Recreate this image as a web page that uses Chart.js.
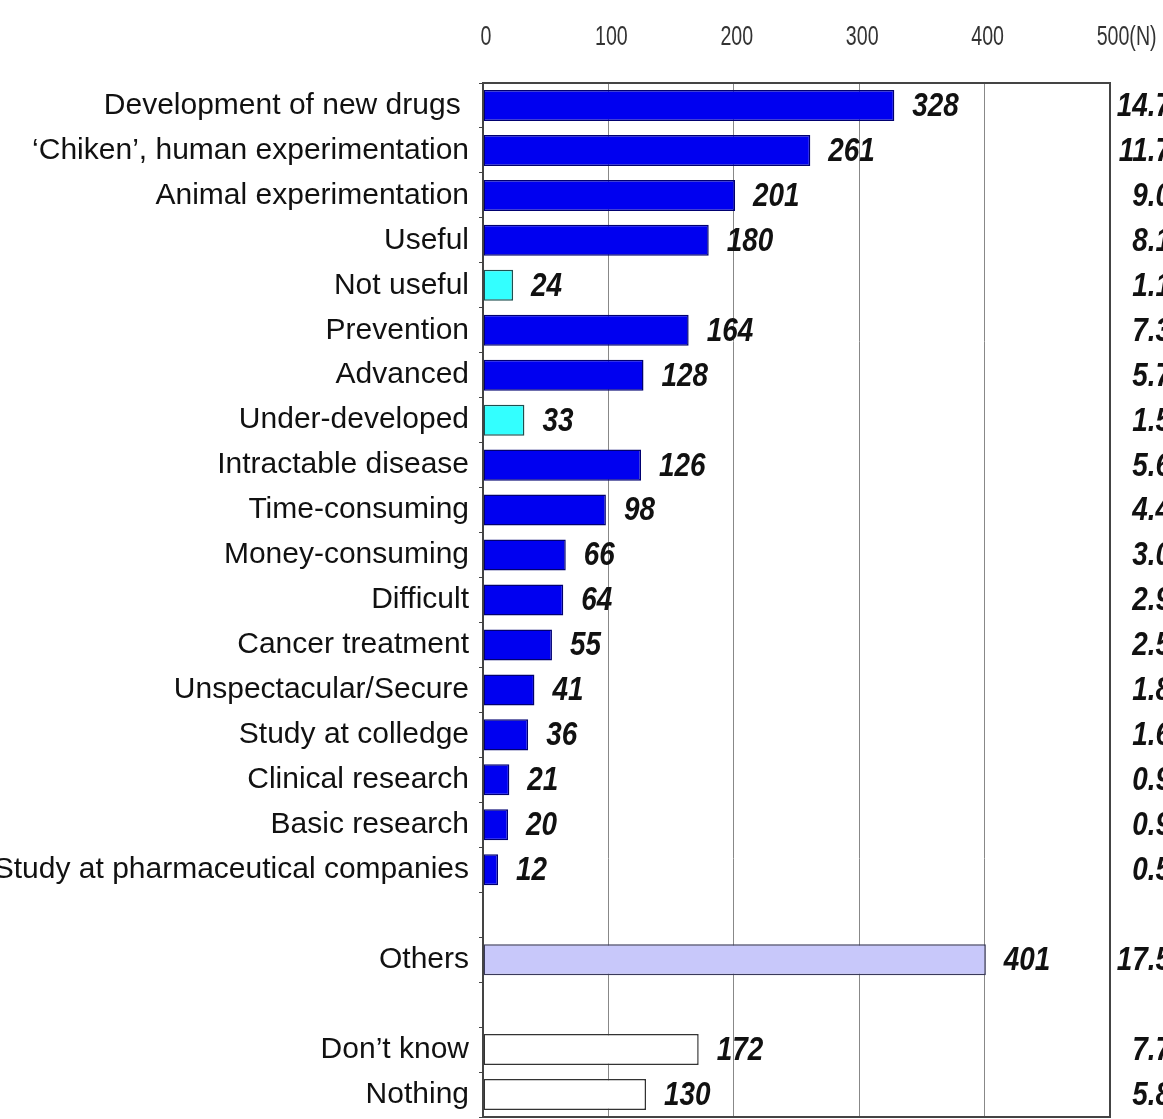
<!DOCTYPE html>
<html>
<head>
<meta charset="utf-8">
<script src="https://cdn.jsdelivr.net/npm/chart.js@4"></script>
<style>
	body { margin: 0; background: #fff; overflow: hidden; }
	canvas { display: block; }
</style>
</head>
<body>
<canvas id="chart" width="1163" height="1119"></canvas>
<script>
'use strict';

// rows from top to bottom, '' = empty spacer row
const categories = [
	'Development of new drugs ', '\u2018Chiken\u2019, human experimentation', 'Animal experimentation',
	'Useful', 'Not useful', 'Prevention', 'Advanced', 'Under-developed', 'Intractable disease',
	'Time-consuming', 'Money-consuming', 'Difficult', 'Cancer treatment', 'Unspectacular/Secure',
	'Study at colledge', 'Clinical research', 'Basic research', 'Study at pharmaceutical companies',
	'', 'Others', '', 'Don\u2019t know', 'Nothing'
];
const counts = [328, 261, 201, 180, 24, 164, 128, 33, 126, 98, 66, 64, 55, 41, 36, 21, 20, 12, null, 401, null, 172, 130];
// percentage column (cut off at the right edge in the original)
const shares = ['14.7', '11.7', '9.0', '8.1', '1.1', '7.3', '5.7', '1.5', '5.6', '4.4', '3.0', '2.9', '2.5', '1.8', '1.6', '0.9', '0.9', '0.5', '', '17.5', '', '7.7', '5.8'];
// b = blue, c = cyan, l = lavender, w = white
const groups = ['b', 'b', 'b', 'b', 'c', 'b', 'b', 'c', 'b', 'b', 'b', 'b', 'b', 'b', 'b', 'b', 'b', 'b', '', 'l', '', 'w', 'w'];
const xTicks = [0, 100, 200, 300, 400, 500];

const fills = { b: '#0000f0', c: '#33ffff', l: '#c8c8fa', w: '#ffffff', '': 'transparent' };
const edges = { b: '#000070', c: '#1f4f4f', l: '#3a3a5a', w: '#333333', '': 'transparent' };

const sans = '"Liberation Sans", Arial, sans-serif';

// draw text squeezed horizontally, the original uses a narrow face
function narrowText(ctx, text, x, y, squeeze) {
	ctx.save();
	ctx.translate(x, y);
	ctx.scale(squeeze, 1);
	ctx.fillText(text, 0, 0);
	ctx.restore();
}

const labelPlugin = {
	id: 'barLabels',
	afterDatasetsDraw(chart) {
		const ctx = chart.ctx;
		const meta = chart.getDatasetMeta(0);
		ctx.save();
		ctx.font = 'italic bold 34px ' + sans;
		ctx.fillStyle = '#111';
		ctx.textBaseline = 'middle';
		meta.data.forEach((bar, i) => {
			if (counts[i] === null) {
				return;
			}
			ctx.textAlign = 'left';
			narrowText(ctx, String(counts[i]), bar.x + 18, bar.y + 1, 0.82);
			ctx.textAlign = 'right';
			narrowText(ctx, shares[i], 1171, bar.y + 1, 0.82);
		});
		ctx.restore();
	},
	afterDraw(chart) {
		const a = chart.chartArea;
		const ctx = chart.ctx;
		ctx.save();
		ctx.strokeStyle = '#444';
		ctx.lineWidth = 2;
		ctx.strokeRect(a.left, a.top, a.right - a.left, a.bottom - a.top);

		// x tick labels along the top
		const x = chart.scales.x;
		ctx.font = '28px ' + sans;
		ctx.fillStyle = '#333';
		ctx.textBaseline = 'middle';
		x.ticks.forEach(t => {
			const px = x.getPixelForValue(t.value) + 3;
			ctx.textAlign = 'center';
			narrowText(ctx, String(t.value), px, 37, 0.7);
			if (t.value === 500) {
				const w = ctx.measureText('500').width * 0.7;
				ctx.textAlign = 'left';
				narrowText(ctx, '(N)', px + w / 2, 37, 0.7);
			}
		});
		ctx.restore();
	}
};

new Chart(document.getElementById('chart'), {
	type: 'bar',
	data: {
		labels: categories,
		datasets: [{
			data: counts,
			backgroundColor: groups.map(g => fills[g]),
			borderColor: groups.map(g => edges[g]),
			borderWidth: 1.5,
			borderSkipped: false,
			categoryPercentage: 1,
			barPercentage: 0.69
		}]
	},
	options: {
		indexAxis: 'y',
		responsive: false,
		animation: false,
		layout: { padding: { top: 0, right: 53, bottom: 2, left: 0 } },
		plugins: {
			legend: { display: false },
			tooltip: { enabled: false }
		},
		scales: {
			x: {
				position: 'top',
				min: 0,
				max: 500,
				afterFit: (scale) => {
					scale.height = 83;
					scale.paddingLeft = 0;
					scale.paddingRight = 0;
				},
				afterBuildTicks: (scale) => { scale.ticks = xTicks.map(v => ({ value: v })); },
				ticks: { display: false },
				grid: { color: '#888', lineWidth: 1, drawTicks: false },
				border: { display: false }
			},
			y: {
				afterFit: (scale) => {
					scale.width = 483;
					scale.paddingTop = 0;
					scale.paddingBottom = 0;
				},
				ticks: {
					font: { family: sans, size: 30 },
					color: '#111',
					padding: 10,
					autoSkip: false
				},
				grid: { drawOnChartArea: false, drawTicks: true, tickLength: 4, color: '#444' },
				border: { display: false }
			}
		}
	},
	plugins: [labelPlugin]
});
</script>
</body>
</html>
